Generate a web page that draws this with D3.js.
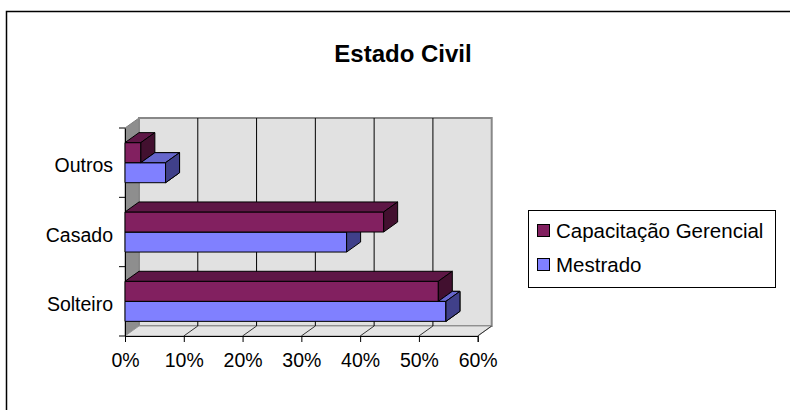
<!DOCTYPE html>
<html lang="pt">
<head>
<meta charset="UTF-8">
<title>Estado Civil</title>
<script src="https://cdnjs.cloudflare.com/ajax/libs/d3/7.8.5/d3.min.js"></script>
<style>
  html, body { margin: 0; padding: 0; background: #fff; }
  svg { display: block; font-family: "Liberation Sans", Arial, sans-serif; }
</style>
</head>
<body>
<div id="chart"></div>
<script>
// values (fractions)
const categories = ["Outros", "Casado", "Solteiro"];      // top to bottom
const seriesNames = ["Capacitação Gerencial", "Mestrado"];
const capacitacao = [0.027, 0.44, 0.533];
const mestrado = [0.069, 0.377, 0.546];
const xTicks = [0, 0.1, 0.2, 0.3, 0.4, 0.5, 0.6];

const W = 790, H = 410;
const DX = 14, DY = -10;   // depth of the 3d box

const colors = {
  cap: { front: "#822060", top: "#5e1746", side: "#42102f" },
  mes: { front: "#8080ff", top: "#6666cc", side: "#40408a" }
};

const svg = d3.select("#chart").append("svg")
  .attr("width", W).attr("height", H);

// outer frame
svg.append("rect")
  .attr("x", 6.5).attr("y", 11.5)
  .attr("width", 820).attr("height", 430)
  .attr("fill", "none").attr("stroke", "#000").attr("stroke-width", 1.5);

svg.append("text")
  .attr("x", 403).attr("y", 62)
  .attr("text-anchor", "middle")
  .attr("font-size", 24).attr("font-weight", "bold")
  .text("Estado Civil");

const x = d3.scaleLinear().domain([0, 0.6]).range([125, 477.7]);
const y0 = d3.scaleBand().domain(categories).range([128, 336]);
const y1 = d3.scaleBand().domain(["cap", "mes"])
  .range([0, y0.bandwidth()]).paddingInner(0).paddingOuter(0.73);

const plotTop = 128, plotBottom = 336;
const poly = pts => "M" + pts.map(p => p.join(",")).join("L") + "Z";

const g = svg.append("g");

// side wall
g.append("path")
  .attr("d", poly([[x(0), plotTop], [x(0) + DX, plotTop + DY], [x(0) + DX, plotBottom + DY], [x(0), plotBottom]]))
  .attr("fill", "#8e8e8e").attr("stroke", "#808080");

// back wall
g.append("rect")
  .attr("x", x(0) + DX).attr("y", plotTop + DY)
  .attr("width", x(0.6) - x(0)).attr("height", plotBottom - plotTop)
  .attr("fill", "#e1e1e1").attr("stroke", "#888").attr("stroke-width", 2);

// floor
g.append("path")
  .attr("d", poly([[x(0), plotBottom], [x(0.6), plotBottom], [x(0.6) + DX, plotBottom + DY], [x(0) + DX, plotBottom + DY]]))
  .attr("fill", "#e4e4e4").attr("stroke", "#999");

// gridlines on wall and floor
xTicks.slice(1, -1).forEach(v => {
  g.append("line")
    .attr("x1", x(v) + DX).attr("x2", x(v) + DX)
    .attr("y1", plotTop + DY).attr("y2", plotBottom + DY)
    .attr("stroke", "#000").attr("stroke-width", 1);
});
xTicks.slice(1).forEach(v => {
  g.append("line")
    .attr("x1", x(v)).attr("y1", plotBottom)
    .attr("x2", x(v) + DX).attr("y2", plotBottom + DY)
    .attr("stroke", "#333").attr("stroke-width", 1);
});

// axes
const axisX = d3.axisBottom(x).tickValues(xTicks).tickFormat(d3.format(".0%"))
  .tickSize(6).tickPadding(11);
const gx = svg.append("g").attr("transform", `translate(0,${plotBottom})`).call(axisX);
gx.select(".domain").attr("stroke", "#000");
gx.selectAll("text").attr("font-size", 19.5).attr("font-family", "Liberation Sans, Arial, sans-serif").attr("fill", "#000");

const axisY = d3.axisLeft(y0).tickSize(0).tickPadding(12);
const gy = svg.append("g").attr("transform", `translate(${x(0)},0)`).call(axisY);
gy.select(".domain").attr("stroke", "#000");
gy.selectAll("text").attr("font-size", 19.5).attr("dy", "0.5em")
  .attr("font-family", "Liberation Sans, Arial, sans-serif").attr("fill", "#000");
// category separators as ticks
[0, 1, 2, 3].forEach(k => {
  const t = plotTop + k * y0.step();
  svg.append("line").attr("x1", x(0) - 6).attr("x2", x(0))
    .attr("y1", t).attr("y2", t).attr("stroke", "#000");
});

// 3d bars
const bars = svg.append("g").attr("stroke", "#000").attr("stroke-width", 1).attr("stroke-linejoin", "round");

function front(yt, h, v, c) {
  bars.append("path").attr("d", poly([[x(0), yt], [x(v), yt], [x(v), yt + h], [x(0), yt + h]])).attr("fill", c.front);
}
function topFace(yt, v0, v1, c) {
  bars.append("path").attr("d", poly([[x(v0), yt], [x(v1), yt], [x(v1) + DX, yt + DY], [x(v0) + DX, yt + DY]])).attr("fill", c.top);
}
function sideFace(yt, h, v, c) {
  bars.append("path").attr("d", poly([[x(v), yt], [x(v) + DX, yt + DY], [x(v) + DX, yt + h + DY], [x(v), yt + h]])).attr("fill", c.side);
}

categories.forEach((cat, i) => {
  const base = y0(cat);
  const h = y1.bandwidth();
  const yc = base + y1("cap"), ym = base + y1("mes");
  const vc = capacitacao[i], vm = mestrado[i];
  // Mestrado sits under Capacitação
  front(ym, h, vm, colors.mes);
  topFace(ym, 0, vm, colors.mes);
  sideFace(ym, h, vm, colors.mes);
  front(yc, h, vc, colors.cap);
  topFace(yc, 0, vc, colors.cap);
  sideFace(yc, h, vc, colors.cap);
  if (vm > vc) {
    topFace(ym, vc, vm, colors.mes);
    sideFace(ym, h, vm, colors.mes);
  }
});

// legend
const lg = svg.append("g");
lg.append("rect").attr("x", 528.5).attr("y", 210.5).attr("width", 247).attr("height", 77)
  .attr("fill", "#fff").attr("stroke", "#000");
const legendColors = [colors.cap.front, colors.mes.front];
seriesNames.forEach((name, i) => {
  const yy = 224.5 + i * 34;
  lg.append("rect").attr("x", 537.5).attr("y", yy).attr("width", 12).attr("height", 12)
    .attr("fill", legendColors[i]).attr("stroke", "#000");
  lg.append("text").attr("x", 556).attr("y", yy + 13)
    .attr("font-size", 20.5).text(name);
});
</script>
</body>
</html>
